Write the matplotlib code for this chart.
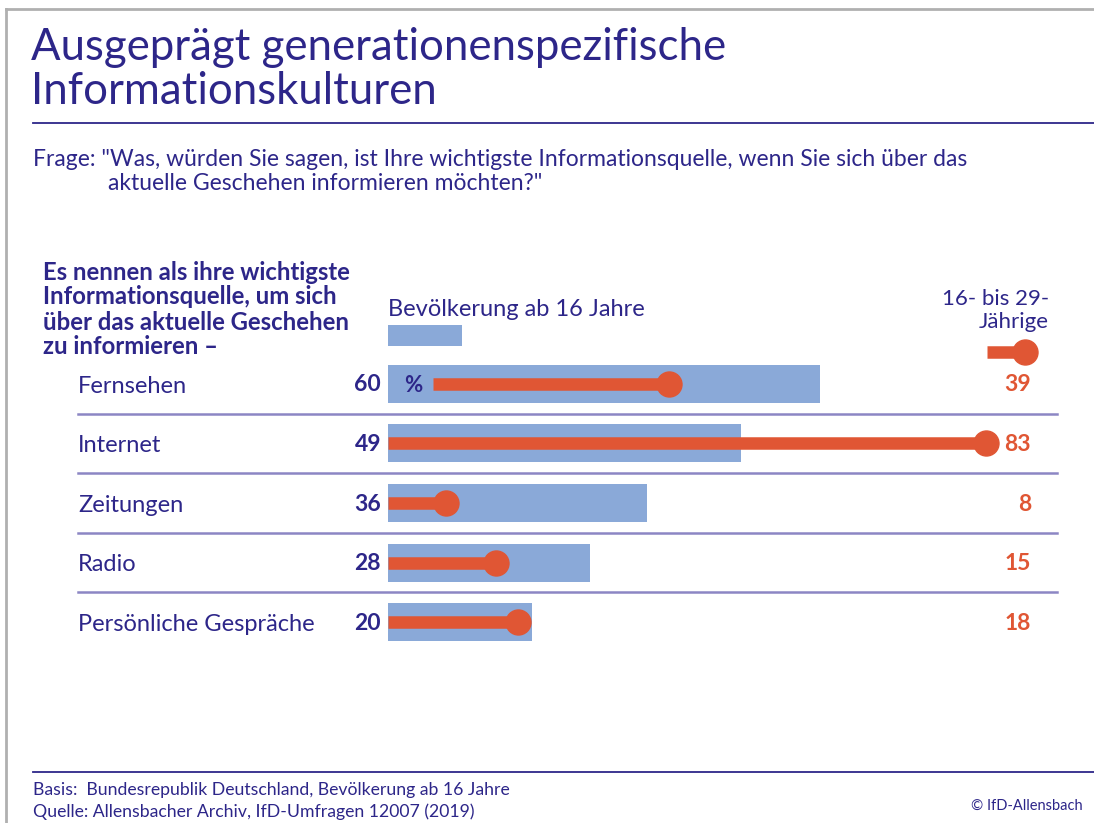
import numpy as np
import matplotlib
matplotlib.use("Agg")
import matplotlib.pyplot as plt
import matplotlib.transforms as mtransforms

# data
categories = ["Fernsehen", "Internet", "Zeitungen", "Radio", "Persönliche Gespräche"]
bevoelkerung = [60, 49, 36, 28, 20]
junge = [39, 83, 8, 15, 18]

navy = "#2d2689"
blue = "#8aa9d8"
orange = "#e05634"
sep = "#8c86c4"

plt.rcParams["font.family"] = ["Lato", "DejaVu Sans"]

W, H = 1094, 823
fig = plt.figure(figsize=(W / 100, H / 100), dpi=100)


def fx(px):
    return px / W


def fy(py):
    return 1 - py / H


def line_texts(x, ys, lines, **kw):
    for yy, s in zip(ys, lines):
        fig.text(fx(x), fy(yy), s, va="center", **kw)


# frame (grey border top and left)
fig.add_artist(plt.Line2D([fx(6), fx(6)], [0, fy(9)], color="#b0b0b0", lw=2))
fig.add_artist(plt.Line2D([fx(6), 1], [fy(9), fy(9)], color="#b0b0b0", lw=2))

# title
line_texts(31, [48, 91], ["Ausgeprägt generationenspezifische", "Informationskulturen"],
           color=navy, fontsize=31.5)
fig.add_artist(plt.Line2D([fx(33), 1], [fy(123), fy(123)], color=navy, lw=1.3))

fig.text(fx(33), fy(159), 'Frage: "Was, würden Sie sagen, ist Ihre wichtigste Informationsquelle, wenn Sie sich über das',
         color=navy, fontsize=16.5, va="center")
fig.text(fx(108), fy(183), 'aktuelle Geschehen informieren möchten?"',
         color=navy, fontsize=16.5, va="center")

line_texts(43, [272, 297, 322, 347],
           ["Es nennen als ihre wichtigste", "Informationsquelle, um sich",
            "über das aktuelle Geschehen", "zu informieren \u2013"],
           color=navy, fontsize=17.2, fontweight="bold")

# main axes: 7.2 px per percentage point, bars start at x=388
ax = fig.add_axes([fx(388), fy(652), fx(1060) - fx(388), (652 - 354) / H])
ax.set_xlim(0, 672 / 7.2)
ax.set_ylim(len(categories) - 0.5, -0.5)
ax.axis("off")

y = np.arange(len(categories))
ax.barh(y, bevoelkerung, height=0.64, color=blue, left=0)

starts = [6.2] + [0] * (len(categories) - 1)
for yi, s, v in zip(y, starts, junge):
    ax.plot([s, v], [yi, yi], color=orange, lw=9, solid_capstyle="butt", zorder=3)
    ax.plot(v, yi, "o", color=orange, ms=18, zorder=4)

ax.text(2.3, 0.03, "%", color=navy, fontsize=16, fontweight="bold", va="center", ha="left")

# separators
for yi in y[:-1]:
    ax.plot([(78 - 388) / 672, (1057 - 388) / 672], [yi + 0.5, yi + 0.5],
            transform=ax.get_yaxis_transform(), color=sep, lw=1.8, clip_on=False)

lab_tr = mtransforms.blended_transform_factory(fig.transFigure, ax.transData)
for yi, c, b, j in zip(y, categories, bevoelkerung, junge):
    ax.text(fx(78), yi + 0.04, c, transform=lab_tr, color=navy, fontsize=17, va="center", ha="left")
    ax.text(fx(381), yi + 0.02, str(b), transform=lab_tr, color=navy, fontsize=16.5,
            fontweight="bold", va="center", ha="right")
    ax.text(fx(1031), yi + 0.02, str(j), transform=lab_tr, color=orange, fontsize=16.5,
            fontweight="bold", va="center", ha="right")

# legend
fig.text(fx(388), fy(309), "Bevölkerung ab 16 Jahre", color=navy, fontsize=17, va="center")
leg = fig.add_axes([fx(388), fy(346), fx(462) - fx(388), 21 / H])
leg.barh([0], [1], height=1, color=blue)
leg.set_xlim(0, 1)
leg.set_ylim(-0.5, 0.5)
leg.axis("off")

for yy, s in zip([299, 322], ["16- bis 29-", "Jährige"]):
    fig.text(fx(1049), fy(yy), s, color=navy, fontsize=16, va="center", ha="right")
leg2 = fig.add_axes([fx(987), fy(365), fx(1040) - fx(987), 26 / H])
leg2.set_xlim(0, 53)
leg2.set_ylim(-0.5, 0.5)
leg2.plot([0, 38], [0, 0], color=orange, lw=9, solid_capstyle="butt")
leg2.plot(38, 0, "o", color=orange, ms=18, clip_on=False)
leg2.axis("off")

# footer
fig.add_artist(plt.Line2D([fx(33), 1], [fy(772), fy(772)], color=navy, lw=1.3))
fig.text(fx(33), fy(790), "Basis:  Bundesrepublik Deutschland, Bevölkerung ab 16 Jahre",
         color=navy, fontsize=12.7, va="center")
fig.text(fx(33), fy(812), "Quelle: Allensbacher Archiv, IfD-Umfragen 12007 (2019)",
         color=navy, fontsize=12.7, va="center")
fig.text(fx(1083), fy(806), "© IfD-Allensbach", color=navy, fontsize=10.5, va="center", ha="right")

fig.savefig("out.png", dpi=100, facecolor="white")
